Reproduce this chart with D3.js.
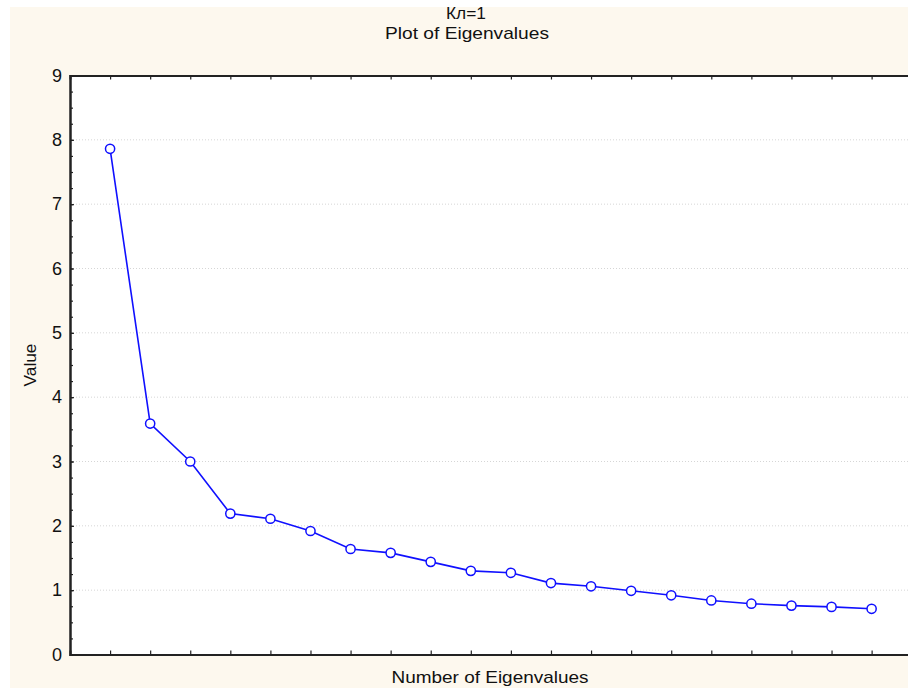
<!DOCTYPE html>
<html><head><meta charset="utf-8">
<script src="https://cdn.jsdelivr.net/npm/d3@7"></script>
<style>html,body{margin:0;padding:0;background:#fff;}svg{display:block;font-family:"Liberation Sans",Arial,sans-serif;}</style>
</head><body>
<script>
const titleLines = ["Кл=1", "Plot of Eigenvalues"];
const xLabel = "Number of Eigenvalues";
const yLabel = "Value";
const numbers = d3.range(1, 21);
const eigenvalues = [7.86, 3.59, 3.00, 2.19, 2.11, 1.92, 1.64, 1.58, 1.44, 1.30, 1.27, 1.11, 1.06, 0.99, 0.92, 0.84, 0.79, 0.76, 0.74, 0.71];
const yTicks = [0, 1, 2, 3, 4, 5, 6, 7, 8, 9];

(function () {
const W = 908, H = 688;
const svg = d3.select("body").append("svg").attr("width", W).attr("height", H);
svg.append("rect").attr("x", 10).attr("y", 7).attr("width", W - 10).attr("height", H - 7).attr("fill", "#fdf8ee");

const pL = 70, pR = 911.7, pT = 75.5, pB = 654.5;
const x = d3.scaleLinear().domain([0, 21]).range([pL, pR]);
const y = d3.scaleLinear().domain([0, 9]).range([pB, pT]);

svg.append("rect").attr("x", pL).attr("y", pT).attr("width", pR - pL).attr("height", pB - pT).attr("fill", "#fff");

// grid
svg.append("g").selectAll("line").data(yTicks.filter(d => d > 0 && d < 9)).join("line")
  .attr("x1", pL).attr("x2", pR).attr("y1", d => y(d)).attr("y2", d => y(d))
  .attr("stroke", "#d6d6d6").attr("stroke-width", 1).attr("stroke-dasharray", "1,2");

// axes
const gx = svg.append("g").attr("transform", `translate(0,${pB})`)
  .call(d3.axisBottom(x).tickValues(numbers).tickSize(-4).tickFormat(""));
const gxt = svg.append("g").attr("transform", `translate(0,${pT})`)
  .call(d3.axisTop(x).tickValues(numbers).tickSize(-4).tickFormat(""));
const gyMinor = svg.append("g").attr("transform", `translate(${pL},0)`)
  .call(d3.axisLeft(y).tickValues(d3.range(0, 9.01, 0.25)).tickSize(-3).tickFormat(""));
const gy = svg.append("g").attr("transform", `translate(${pL},0)`)
  .call(d3.axisLeft(y).tickValues(yTicks).tickSize(-4).tickPadding(8).tickFormat(d3.format("d")));
[gx, gxt, gyMinor, gy].forEach(g => {
  g.selectAll(".domain").attr("stroke", "#222").attr("stroke-width", 2);
  g.selectAll(".tick line").attr("stroke", "#222").attr("stroke-width", 1.2);
});
gy.selectAll(".tick text").attr("font-size", 18).attr("fill", "#111").attr("font-family", "Liberation Sans, Arial, sans-serif");

// line
svg.append("path").datum(eigenvalues)
  .attr("d", d3.line().x((d, i) => x(numbers[i])).y(d => y(d)))
  .attr("fill", "none").attr("stroke", "#1010ff").attr("stroke-width", 1.6);
svg.append("g").selectAll("circle").data(eigenvalues).join("circle")
  .attr("cx", (d, i) => x(numbers[i])).attr("cy", d => y(d)).attr("r", 4.6)
  .attr("fill", "#fff").attr("stroke", "#1010ff").attr("stroke-width", 1.5);

// titles
const txt = (xx, yy, s, len) => svg.append("text").attr("x", xx).attr("y", yy).attr("text-anchor", "middle")
  .attr("font-size", 17).attr("fill", "#111").attr("textLength", len).attr("lengthAdjust", "spacingAndGlyphs").text(s);
txt(466, 19, titleLines[0], 40);
txt(467, 39, titleLines[1], 164);
txt(490, 683, xLabel, 197);
svg.append("text").attr("transform", `translate(36,${(pT + pB) / 2}) rotate(-90)`).attr("text-anchor", "middle")
  .attr("font-size", 17).attr("fill", "#111").attr("textLength", 43).attr("lengthAdjust", "spacingAndGlyphs").text(yLabel);
})();
</script>
</body></html>
